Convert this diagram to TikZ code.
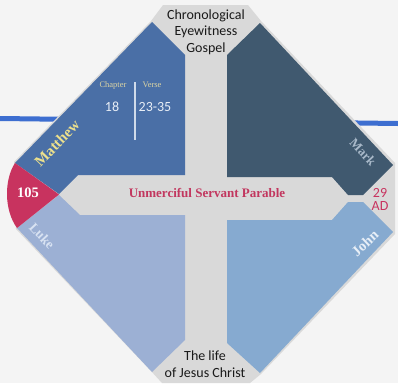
\documentclass[tikz,border=0pt]{standalone}
\usepackage{fontspec}
\setmainfont{Liberation Serif}
\newfontfamily\carl{Carlito}
\definecolor{bgc}{HTML}{F4F4F4}
\definecolor{greyc}{HTML}{D9D9D9}
\definecolor{matc}{HTML}{4A6FA6}
\definecolor{markc}{HTML}{40596F}
\definecolor{lukec}{HTML}{9CB0D4}
\definecolor{johnc}{HTML}{86AAD0}
\definecolor{redc}{HTML}{C8335F}
\definecolor{linec}{HTML}{3D6ED0}
\definecolor{parc}{HTML}{C2375F}
\definecolor{mattext}{HTML}{ECE08C}
\definecolor{marktext}{HTML}{A9B9C9}
\definecolor{luketext}{HTML}{D8E2F2}
\definecolor{johntext}{HTML}{E8EFF7}
\definecolor{khaki}{HTML}{DDD5A4}
\definecolor{numc}{HTML}{E8EEF6}
\begin{document}
\begin{tikzpicture}[x=1pt,y=-1pt,
  gosp/.style={font=\bfseries\fontsize{#1}{#1}\selectfont, inner sep=0pt},
  sanstext/.style={font=\carl\fontsize{14}{16.5}\selectfont, align=center, inner sep=0pt, text=black!90},
  smallhead/.style={font=\fontsize{8.5}{9}\selectfont, text=khaki, inner sep=0pt},
  numtext/.style={font=\carl\fontsize{14}{14}\selectfont, text=numc, inner sep=0pt}]
\useasboundingbox (0,0) rectangle (398,383);
\fill[bgc] (0,0) rectangle (398,383);
% blue line behind
\coordinate (la) at (0,118.5);
\coordinate (lb) at (398,123.5);
\draw[linec, line width=5pt] (la) -- (lb);
% grey base
\fill[greyc] (163,5) -- (248,5) -- (261,21) -- (395,163) -- (395,234) -- (261,374) -- (250,383)
  -- (162,383) -- (151,371) -- (16,229) -- (14,162) -- (151,21) -- cycle;
% panels
\fill[matc] (152,22) -- (185,55) -- (185,175) -- (78,175) -- (59,194) -- (15,163) -- cycle;
\fill[markc] (260,23) -- (393,165) -- (363,195) -- (348,195) -- (332,177) -- (227,177) -- (227,55) -- cycle;
\fill[lukec] (17,228) -- (59,195) -- (80,215) -- (185,215) -- (185,340) -- (152,372) -- cycle;
\fill[johnc] (227,220) -- (332,220) -- (348,202) -- (363,202) -- (393,232) -- (260,373) -- (227,343) -- cycle;
\fill[redc] (15,163) -- (59,194.5) -- (17,228) .. controls (4,210) and (4,180) .. (15,163) -- cycle;
% texts
\node[sanstext] (top) at (206,32) {Chronological\\Eyewitness\\Gospel};
\node[sanstext] (bot) at (205,364) {The life\\of Jesus Christ};
\node[gosp=13, text=parc] (par) at (207,193) {Unmerciful Servant Parable};
\node[gosp=15, text=mattext, rotate=46] (mat) at (57,143) {Matthew};
\node[gosp=13, text=marktext, rotate=-47] (mark) at (363,152) {Mark};
\node[gosp=13.5, text=luketext, rotate=-47] (luke) at (42,236) {Luke};
\node[gosp=14.5, text=johntext, rotate=43] (john) at (365,243) {John};
\node[gosp=14.5, text=white] (n105) at (28,193) {105};
\node[font=\carl\fontsize{14}{13}\selectfont, text=redc, align=center, inner sep=0pt] (ad) at (380,199.5) {29\\AD};
\node[smallhead] (chap) at (113,85) {Chapter};
\node[smallhead] (verse) at (152,85) {Verse};
\node[numtext] (n18) at (112,107) {18};
\node[numtext] (n2335) at (155,107) {23-35};
\coordinate (dva) at (135,82);
\coordinate (dvb) at (135,140);
\draw[numc!85!matc, line width=1.2pt] (dva) -- (dvb);
\end{tikzpicture}
\end{document}
